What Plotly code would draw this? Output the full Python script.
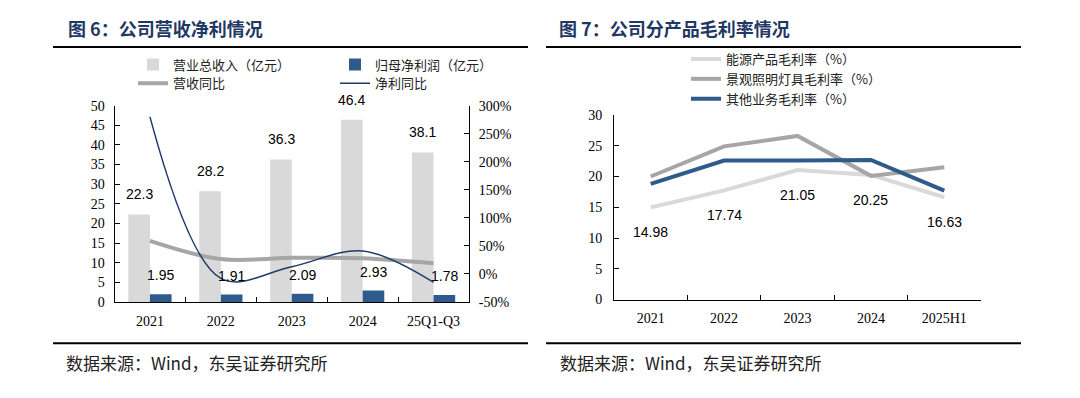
import plotly.graph_objects as go

# ---------------- data ----------------
periods_left = ["2021", "2022", "2023", "2024", "25Q1-Q3"]
revenue = [22.3, 28.2, 36.3, 46.4, 38.1]          # 营业总收入（亿元）
net_profit = [1.95, 1.91, 2.09, 2.93, 1.78]       # 归母净利润（亿元）
revenue_yoy = [59, 26.5, 28.7, 28, 19]            # 营收同比 (%)
profit_yoy = [280, -8, 13, 41, -15]               # 净利同比 (%)

periods_right = ["2021", "2022", "2023", "2024", "2025H1"]
energy_gm = [14.98, 17.74, 21.05, 20.25, 16.63]   # 能源产品毛利率（%）
lighting_gm = [20.0, 24.9, 26.6, 20.1, 21.5]      # 景观照明灯具毛利率（%）
other_gm = [18.8, 22.6, 22.6, 22.7, 17.7]         # 其他业务毛利率（%）

left_y_ticks = list(range(0, 51, 5))
right_y_ticks = list(range(-50, 301, 50))
right_y_labels = [f"{v}%" for v in right_y_ticks]
gm_ticks = list(range(0, 31, 5))

# ---------------- styles ----------------
# the page body has an 8px margin, so the figure is drawn 8px in from the corner
OFF = 8
W, H = 1080 - OFF, 398 - OFF
SERIF = "Liberation Serif, Times New Roman, serif"
SANS = "Liberation Sans, Arial, sans-serif"
CJK = "Noto Sans CJK SC, sans-serif"
LIGHT = "#D9D9D9"
MID = "#A6A6A6"
NAVY = "#2F5A8C"
DARKNAVY = "#1F3B68"
TITLE = "#1F3864"

def px(x):
    return (x - OFF) / W

def py(y):
    return 1 - (y - OFF) / H

fig = go.Figure()

# left chart
fig.add_trace(go.Bar(x=periods_left, y=revenue, name="营业总收入（亿元）",
                     marker=dict(color=LIGHT, line_width=0), xaxis="x", yaxis="y",
                     legend="legend"))
fig.add_trace(go.Bar(x=periods_left, y=net_profit, name="归母净利润（亿元）",
                     marker=dict(color=NAVY, line_width=0), xaxis="x", yaxis="y",
                     legend="legend"))
fig.add_trace(go.Scatter(x=periods_left, y=revenue_yoy, name="营收同比", mode="lines",
                         line=dict(color=MID, width=4, shape="spline"),
                         xaxis="x", yaxis="y2", legend="legend3"))
fig.add_trace(go.Scatter(x=periods_left, y=profit_yoy, name="净利同比", mode="lines",
                         line=dict(color=DARKNAVY, width=1.5, shape="spline"),
                         xaxis="x", yaxis="y2", legend="legend3"))

# right chart
fig.add_trace(go.Scatter(x=periods_right, y=energy_gm, name="能源产品毛利率（%）", mode="lines",
                         line=dict(color=LIGHT, width=4), xaxis="x2", yaxis="y3",
                         legend="legend2"))
fig.add_trace(go.Scatter(x=periods_right, y=lighting_gm, name="景观照明灯具毛利率（%）", mode="lines",
                         line=dict(color=MID, width=4), xaxis="x2", yaxis="y3",
                         legend="legend2"))
fig.add_trace(go.Scatter(x=periods_right, y=other_gm, name="其他业务毛利率（%）", mode="lines",
                         line=dict(color=NAVY, width=4), xaxis="x2", yaxis="y3",
                         legend="legend2"))

tickfont = dict(family=SERIF, size=14, color="#000")
common_axis = dict(showline=True, linecolor="#000", linewidth=1, showgrid=False,
                   zeroline=False, tickfont=tickfont, ticks="inside", ticklen=5,
                   tickcolor="#000", fixedrange=True, automargin=False)

labfont = dict(family=SANS, size=14, color="#000")
annotations = []
for i, v in enumerate(revenue):
    annotations.append(dict(x=i, y=v, xref="x", yref="y", text=f"{v}", showarrow=False,
                            xshift=-10.7, yshift=20, yanchor="middle", font=labfont))
for i, v in enumerate(net_profit):
    annotations.append(dict(x=i, y=v, xref="x", yref="y", text=f"{v:.2f}", showarrow=False,
                            xshift=10.8, yshift=19, yanchor="middle", font=labfont))
for i, v in enumerate(energy_gm):
    annotations.append(dict(x=i, y=v, xref="x2", yref="y3", text=f"{v:.2f}", showarrow=False,
                            yshift=-25, yanchor="middle", font=labfont))

annotations += [
    dict(x=px(66), y=py(28), xref="paper", yref="paper", xanchor="left", yanchor="middle",
         text="<b>图 6：公司营收净利情况</b>", showarrow=False,
         font=dict(family=CJK, size=18, color=TITLE)),
    dict(x=px(557), y=py(28), xref="paper", yref="paper", xanchor="left", yanchor="middle",
         text="<b>图 7：公司分产品毛利率情况</b>", showarrow=False,
         font=dict(family=CJK, size=18, color=TITLE)),
    dict(x=px(64), y=py(362), xref="paper", yref="paper", xanchor="left", yanchor="middle",
         text="数据来源：Wind，东吴证券研究所", showarrow=False,
         font=dict(family=CJK, size=17, color="#222")),
    dict(x=px(558), y=py(362), xref="paper", yref="paper", xanchor="left", yanchor="middle",
         text="数据来源：Wind，东吴证券研究所", showarrow=False,
         font=dict(family=CJK, size=17, color="#222")),
]

shapes = []
for (x0, x1) in [(53, 528), (546, 1021)]:
    for yy in (47, 343.3):
        shapes.append(dict(type="line", xref="paper", yref="paper", x0=px(x0), x1=px(x1),
                           y0=py(yy), y1=py(yy), line=dict(color="#000", width=2)))

legfont = dict(family=CJK, size=13, color="#222")

fig.update_layout(
    width=W, height=H, margin=dict(l=0, r=0, t=0, b=0, autoexpand=False),
    paper_bgcolor="white", plot_bgcolor="white",
    barmode="group", bargap=0.39, bargroupgap=0,
    xaxis=dict(domain=[px(114.5), px(469)], anchor="y", type="category",
               range=[-0.5, 4.5], tickson="boundaries", ticklabelstandoff=6, **common_axis),
    yaxis=dict(domain=[py(302), py(105.7)], anchor="x", range=[0, 50],
               tickvals=left_y_ticks, ticklabelstandoff=6, **common_axis),
    yaxis2=dict(overlaying="y", anchor="x", side="right", range=[-50, 300],
                tickvals=right_y_ticks, ticktext=right_y_labels, ticklabelstandoff=6,
                **common_axis),
    xaxis2=dict(domain=[px(614), px(981)], anchor="y3", type="category",
                range=[-0.5, 4.5], tickson="boundaries", ticklabelstandoff=6, **common_axis),
    yaxis3=dict(domain=[py(299.5), py(115)], anchor="x2", range=[0, 30],
                tickvals=gm_ticks, ticklabelstandoff=8, **common_axis),
    legend=dict(orientation="h", x=px(133), y=py(64.5), xanchor="left", yanchor="middle",
                entrywidth=157, entrywidthmode="pixels", font=legfont,
                bgcolor="rgba(0,0,0,0)", traceorder="normal"),
    legend3=dict(orientation="h", x=px(133), y=py(83.3), xanchor="left", yanchor="middle",
                 entrywidth=157, entrywidthmode="pixels", font=legfont,
                 bgcolor="rgba(0,0,0,0)", traceorder="normal"),
    legend2=dict(orientation="v", x=px(686), y=py(44), xanchor="left", yanchor="top",
                 font=legfont, bgcolor="rgba(0,0,0,0)", traceorder="normal",
                 tracegroupgap=0),
    annotations=annotations, shapes=shapes,
    showlegend=True,
)

fig.write_html("out.html")
